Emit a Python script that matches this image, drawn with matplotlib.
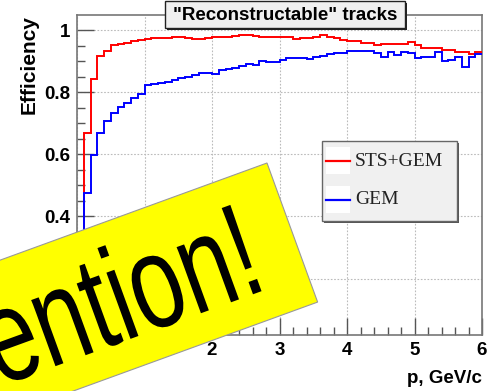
import numpy as np
import matplotlib.pyplot as plt
from matplotlib.patches import Rectangle, Polygon
from matplotlib.patheffects import AbstractPathEffect
from matplotlib.transforms import Affine2D

# histogram binning (60 bins of 0.1 GeV/c)
p_edges = np.linspace(0, 6, 61)

# efficiency per bin
sts_gem = [0.30, 0.67, 0.844, 0.916, 0.934, 0.951, 0.956, 0.960, 0.965, 0.970,
           0.973, 0.974, 0.976, 0.974, 0.977, 0.978, 0.976, 0.972, 0.973, 0.975,
           0.977, 0.977, 0.979, 0.982, 0.984, 0.984, 0.980, 0.979, 0.977, 0.977,
           0.979, 0.979, 0.971, 0.974, 0.975, 0.977, 0.984, 0.977, 0.975, 0.967,
           0.965, 0.965, 0.958, 0.958, 0.953, 0.955, 0.955, 0.955, 0.955, 0.961,
           0.953, 0.942, 0.942, 0.942, 0.936, 0.936, 0.929, 0.929, 0.923, 0.931]
gem = [0.20, 0.475, 0.598, 0.668, 0.708, 0.734, 0.752, 0.764, 0.780, 0.795,
       0.822, 0.827, 0.829, 0.834, 0.840, 0.847, 0.850, 0.856, 0.862, 0.862,
       0.860, 0.872, 0.875, 0.878, 0.886, 0.891, 0.887, 0.901, 0.899, 0.899,
       0.905, 0.910, 0.910, 0.909, 0.907, 0.913, 0.917, 0.922, 0.925, 0.928,
       0.932, 0.933, 0.934, 0.933, 0.926, 0.915, 0.931, 0.920, 0.931, 0.926,
       0.910, 0.913, 0.913, 0.929, 0.902, 0.904, 0.913, 0.883, 0.915, 0.924]

series_names = ["STS+GEM", "GEM"]
series_colors = ["red", "blue"]

x_ticks = [0, 1, 2, 3, 4, 5, 6]
x_ticklabels = ["0", "1", "2", "3", "4", "5", "6"]
y_ticks = [0.2, 0.4, 0.6, 0.8, 1.0]
y_ticklabels = ["0.2", "0.4", "0.6", "0.8", "1"]


class Squeeze(AbstractPathEffect):
    # narrows the glyphs along the text direction, keeping the right end fixed
    def __init__(self, sx):
        super().__init__()
        self.sx = sx

    def draw_path(self, renderer, gc, tpath, affine, rgbFace=None):
        x1 = tpath.get_extents().x1
        aff = Affine2D().translate(-x1, 0).scale(self.sx, 1).translate(x1, 0) + affine
        renderer.draw_path(gc, tpath, aff, rgbFace)


W, H = 491, 391
fig = plt.figure(figsize=(W / 100, H / 100), dpi=100)
fig.patch.set_facecolor("white")

# main frame, pixel box 77..482 x 15..335
ax = fig.add_axes([77 / W, 1 - 335 / H, 405 / W, 320 / H])
ax.set_xlim(0, 6)
ax.set_ylim(0.018, 1.049)

for vals, col in zip([sts_gem, gem], series_colors):
    ax.stairs(vals, p_edges, color=col, lw=1.4, baseline=None, zorder=3)

ax.set_xticks(x_ticks)
ax.set_xticklabels(x_ticklabels)
ax.set_yticks(y_ticks)
ax.set_yticklabels(y_ticklabels)
ax.set_xticks(np.arange(0, 6.01, 0.2), minor=True)
ax.set_yticks(np.arange(0.05, 1.05, 0.05), minor=True)

lab_font = dict(family="Liberation Sans", weight="bold", size=13.5)
for t in ax.get_xticklabels() + ax.get_yticklabels():
    t.set_fontfamily("Liberation Sans")
    t.set_fontweight("bold")
    t.set_fontsize(13.5)

ax.tick_params(which="major", direction="in", length=12, width=1, color="#555555", pad=5)
ax.tick_params(which="minor", direction="in", length=6, width=1, color="#555555")
ax.grid(which="major", color="#bbbbbb", linestyle=(0, (1.5, 1.5)), lw=0.8)
for sp in ax.spines.values():
    sp.set_color("#777777")
    sp.set_linewidth(1.2)

ax.set_ylabel("Efficiency", loc="top", family="Liberation Sans", weight="bold", size=15)
ax.yaxis.set_label_coords(-0.094, 1.0)
ax.set_xlabel("p, GeV/c", loc="right", **lab_font)
ax.xaxis.set_label_coords(1.0, -0.11)

# overlay in pixel coordinates for title box, legend and banner
ov = fig.add_axes([0, 0, 1, 1], zorder=10)
ov.set_xlim(0, W)
ov.set_ylim(H, 0)
ov.axis("off")
ov.patch.set_visible(False)

# title pave
ov.add_patch(Rectangle((167, 3), 240, 27, facecolor="#222222", edgecolor="none"))
ov.add_patch(Rectangle((165, 1), 240, 27, facecolor="#f0f0f0", edgecolor="#222222", lw=1))
ov.text(285, 15, '"Reconstructable" tracks', ha="center", va="center", **lab_font)

# legend
ov.add_patch(Rectangle((324, 143), 135, 80, facecolor="#555555", edgecolor="none"))
ov.add_patch(Rectangle((322, 141), 135, 80, facecolor="#f0f0f0", edgecolor="#666666", lw=1))
for i, (name, col) in enumerate(zip(series_names, series_colors)):
    yc = 161 + 39 * i
    ov.add_patch(Rectangle((326, yc - 14), 24, 27, facecolor="white", edgecolor="none"))
    ov.plot([326, 350], [yc, yc], color=col, lw=1.6)
    ov.text(355, yc, name, ha="left", va="center", family="Liberation Serif",
            size=14, color="#222222")

# yellow banner
ang = np.deg2rad(20)
u = np.array([np.cos(ang), -np.sin(ang)])
n = np.array([np.sin(ang), np.cos(ang)])
tr = np.array([267.0, 163.0])
br = tr + 148 * n
bl = br - 700 * u
tl = tr - 700 * u
ov.add_patch(Polygon([tl, tr, br, bl], closed=True, facecolor="#ffff00",
                     edgecolor="#999999", lw=0.8))
ov.text(273, 287, "Attention!", rotation=20, rotation_mode="anchor",
        ha="right", va="baseline", family="Liberation Sans", size=96, color="black",
        path_effects=[Squeeze(0.72)])

fig.savefig("out.png", dpi=100)
